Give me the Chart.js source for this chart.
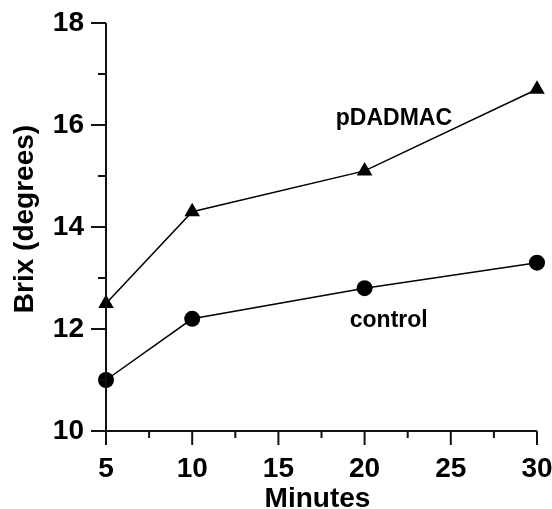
<!DOCTYPE html>
<html>
<head>
<meta charset="utf-8">
<script src="https://cdn.jsdelivr.net/npm/chart.js@4/dist/chart.umd.min.js"></script>
<style>
  html, body { margin: 0; padding: 0; background: #ffffff; }
  #wrap { width: 552px; height: 509px; }
</style>
</head>
<body>
<div id="wrap"><canvas id="c" width="552" height="509"></canvas></div>
<script>
// Sampling times (minutes) and Brix readings for each treatment
const minutes = [5, 10, 20, 30];
const pdadmac = [12.5, 14.3, 15.1, 16.7];
const control = [11.0, 12.2, 12.8, 13.3];

// Axis ranges and tick spacing
const xRange = [5, 30];
const yRange = [10, 18];
const xMajor = 5, xMinor = 2.5;
const yMajor = 2, yMinor = 1;

// Axis titles and in-plot series labels
const xTitle = 'Minutes';
const yTitle = 'Brix (degrees)';
const seriesLabels = ['pDADMAC', 'control'];

const FONT = "'Liberation Sans', Arial, Helvetica, sans-serif";
const INK = '#111111';

const isMultiple = (v, step) => Math.abs(v / step - Math.round(v / step)) < 1e-6;

// Draws axis lines, long/short ticks, axis titles and the series captions
const axesPlugin = {
  id: 'axesPlugin',
  afterDraw(chart) {
    const ctx = chart.ctx;
    const xs = chart.scales.x, ys = chart.scales.y;
    const x0 = xs.getPixelForValue(xRange[0]);
    const x1 = xs.getPixelForValue(xRange[1]);
    const y0 = ys.getPixelForValue(yRange[0]);
    const y1 = ys.getPixelForValue(yRange[1]);
    ctx.save();
    ctx.strokeStyle = INK;
    ctx.lineWidth = 2;
    ctx.lineCap = 'butt';
    // axis lines (each runs past the other by one major tick length)
    ctx.beginPath();
    ctx.moveTo(x0 - 15, y0); ctx.lineTo(x1, y0);
    ctx.moveTo(x0, y1); ctx.lineTo(x0, y0 + 14);
    ctx.stroke();
    // x ticks
    ctx.beginPath();
    for (let v = xRange[0]; v <= xRange[1] + 1e-9; v += xMinor) {
      const px = xs.getPixelForValue(v);
      const len = isMultiple(v, xMajor) ? 14 : 7;
      ctx.moveTo(px, y0); ctx.lineTo(px, y0 + len);
    }
    // y ticks
    for (let v = yRange[0]; v <= yRange[1] + 1e-9; v += yMinor) {
      const py = ys.getPixelForValue(v);
      const len = isMultiple(v, yMajor) ? 15 : 8;
      ctx.moveTo(x0, py); ctx.lineTo(x0 - len, py);
    }
    ctx.stroke();

    // axis titles
    ctx.fillStyle = '#000';
    ctx.font = 'bold 28px ' + FONT;
    ctx.textAlign = 'center';
    ctx.textBaseline = 'alphabetic';
    ctx.fillText(xTitle, (x0 + x1) / 2 - 4, 507);
    ctx.save();
    ctx.translate(33, (y0 + y1) / 2 - 8);
    ctx.rotate(-Math.PI / 2);
    ctx.fillText(yTitle, 0, 0);
    ctx.restore();

    // series captions anchored in data units
    const anchors = [[21.7, 16.0], [21.4, 12.03]];
    ctx.font = 'bold 23px ' + FONT;
    seriesLabels.forEach((t, i) => {
      ctx.fillText(t, xs.getPixelForValue(anchors[i][0]), ys.getPixelForValue(anchors[i][1]));
    });
    ctx.restore();
  }
};

const tickFont = { family: FONT, size: 28, weight: 'bold' };

new Chart(document.getElementById('c'), {
  type: 'line',
  data: {
    datasets: [
      {
        label: seriesLabels[0],
        data: minutes.map((m, i) => ({ x: m, y: pdadmac[i] })),
        borderColor: '#000',
        backgroundColor: '#000',
        borderWidth: 1.5,
        pointStyle: 'triangle',
        pointRadius: 9,
        pointBorderWidth: 0,
        pointBackgroundColor: '#000',
        clip: false,
        tension: 0
      },
      {
        label: seriesLabels[1],
        data: minutes.map((m, i) => ({ x: m, y: control[i] })),
        borderColor: '#000',
        backgroundColor: '#000',
        borderWidth: 1.5,
        pointStyle: 'circle',
        pointRadius: 8,
        pointBorderWidth: 0,
        pointBackgroundColor: '#000',
        clip: false,
        tension: 0
      }
    ]
  },
  options: {
    responsive: false,
    animation: false,
    events: [],
    layout: { padding: { top: 23, right: 15, left: 0, bottom: 0 } },
    plugins: { legend: { display: false }, tooltip: { enabled: false } },
    scales: {
      x: {
        type: 'linear',
        min: xRange[0],
        max: xRange[1],
        afterFit(scale) {
          scale.height = 78;
          scale.paddingLeft = 0;
          scale.paddingRight = 0;
        },
        grid: { display: false, drawTicks: false },
        border: { display: false },
        ticks: {
          stepSize: xMinor,
          autoSkip: false,
          maxRotation: 0,
          padding: 21,
          color: '#000',
          font: tickFont,
          callback: (v) => isMultiple(v, xMajor) ? String(v) : ''
        }
      },
      y: {
        type: 'linear',
        min: yRange[0],
        max: yRange[1],
        afterFit(scale) {
          scale.width = 106;
          scale.paddingTop = 0;
          scale.paddingBottom = 0;
        },
        grid: { display: false, drawTicks: false },
        border: { display: false },
        ticks: {
          stepSize: yMinor,
          autoSkip: false,
          padding: 22,
          color: '#000',
          font: tickFont,
          callback: (v) => isMultiple(v, yMajor) ? String(v) : ''
        }
      }
    }
  },
  plugins: [axesPlugin]
});
</script>
</body>
</html>
